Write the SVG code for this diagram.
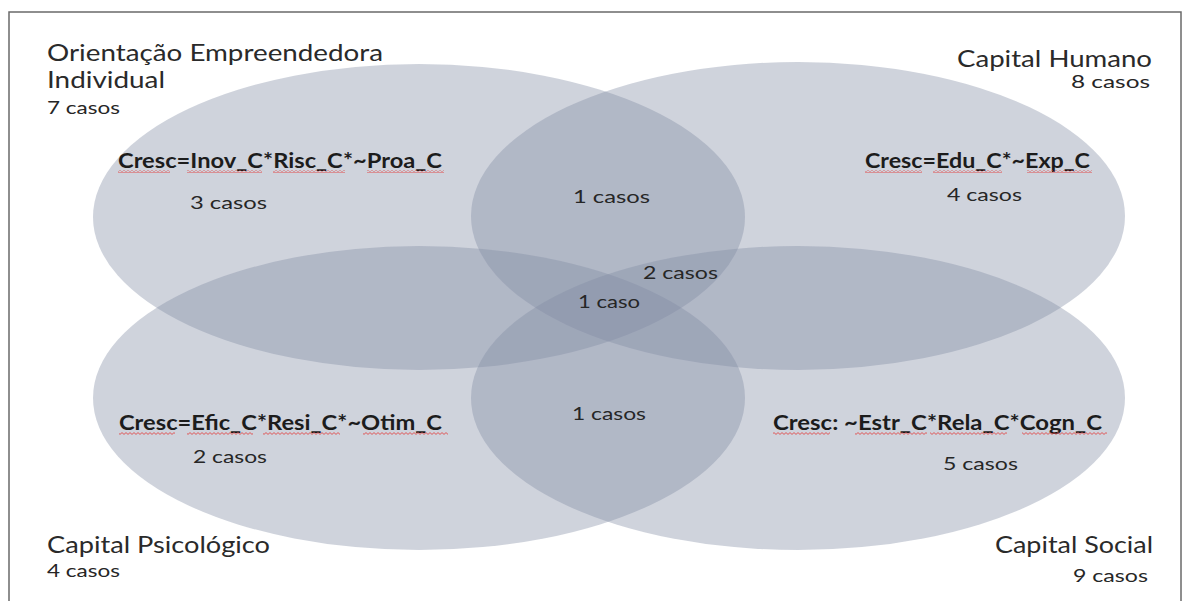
<svg xmlns="http://www.w3.org/2000/svg" width="1187" height="601" viewBox="0 0 1187 601">
<defs>
<style>
.set{fill:#808ca2;fill-opacity:0.38;stroke:none}
.title{font-family:Lato,"Open Sans","Liberation Sans",sans-serif;font-size:23px;fill:#2a2a2a}
.count{font-family:Lato,"Open Sans","Liberation Sans",sans-serif;font-size:18px;fill:#262626}
.formula{font-family:Lato,"Open Sans","Liberation Sans",sans-serif;font-size:20px;font-weight:bold;fill:#1c1c1c}
.sq{fill:url(#squiggle)}
</style>
<pattern id="squiggle" x="0" y="0" width="4" height="3" patternUnits="userSpaceOnUse">
<path d="M0 2.4 L2 0.6 L4 2.4" fill="none" stroke="#e04848" stroke-width="0.9"/>
</pattern>
</defs>
<rect x="0" y="0" width="1187" height="601" fill="#ffffff"/>
<rect id="frame" x="9" y="12" width="1172" height="600" fill="none" stroke="#6a6a6a" stroke-width="1.5"/>

<g id="set-orientacao">
<ellipse class="set" cx="419" cy="217" rx="326" ry="153"/>
<text class="title" x="47" y="61" textLength="336" lengthAdjust="spacingAndGlyphs">Orientação Empreendedora</text>
<text class="title" x="47" y="88" textLength="118" lengthAdjust="spacingAndGlyphs">Individual</text>
<text class="count" x="47" y="114" textLength="73" lengthAdjust="spacingAndGlyphs">7 casos</text>
<text class="formula" x="118" y="168" textLength="324" lengthAdjust="spacingAndGlyphs">Cresc=Inov_C*Risc_C*~Proa_C</text>
<rect class="sq" x="118" y="170" width="52" height="3"/>
<rect class="sq" x="187" y="170" width="75" height="3"/>
<rect class="sq" x="273" y="170" width="72" height="3"/>
<rect class="sq" x="367" y="170" width="77" height="3"/>
<text class="count" x="190" y="209" textLength="77" lengthAdjust="spacingAndGlyphs">3 casos</text>
</g>

<g id="set-humano">
<ellipse class="set" cx="798" cy="216" rx="327" ry="154"/>
<text class="title" x="957" y="67" textLength="195" lengthAdjust="spacingAndGlyphs">Capital Humano</text>
<text class="count" x="1071" y="88" textLength="79" lengthAdjust="spacingAndGlyphs">8 casos</text>
<text class="formula" x="865" y="168" textLength="225" lengthAdjust="spacingAndGlyphs">Cresc=Edu_C*~Exp_C</text>
<rect class="sq" x="865" y="170" width="57" height="3"/>
<rect class="sq" x="933" y="170" width="69" height="3"/>
<rect class="sq" x="1027" y="170" width="65" height="3"/>
<text class="count" x="947" y="201" textLength="75" lengthAdjust="spacingAndGlyphs">4 casos</text>
</g>

<g id="set-psicologico">
<ellipse class="set" cx="419" cy="398" rx="326" ry="152"/>
<text class="title" x="47" y="553" textLength="223" lengthAdjust="spacingAndGlyphs">Capital Psicológico</text>
<text class="count" x="47" y="577" textLength="73" lengthAdjust="spacingAndGlyphs">4 casos</text>
<text class="formula" x="119" y="430" textLength="323" lengthAdjust="spacingAndGlyphs">Cresc=Efic_C*Resi_C*~Otim_C</text>
<rect class="sq" x="119" y="432" width="56" height="3"/>
<rect class="sq" x="187" y="432" width="66" height="3"/>
<rect class="sq" x="263" y="432" width="77" height="3"/>
<rect class="sq" x="363" y="432" width="85" height="3"/>
<text class="count" x="193" y="463" textLength="74" lengthAdjust="spacingAndGlyphs">2 casos</text>
</g>

<g id="set-social">
<ellipse class="set" cx="798" cy="398" rx="327" ry="152"/>
<text class="title" x="995" y="553" textLength="158" lengthAdjust="spacingAndGlyphs">Capital Social</text>
<text class="count" x="1073" y="582" textLength="75" lengthAdjust="spacingAndGlyphs">9 casos</text>
<text class="formula" x="773" y="430" textLength="329" lengthAdjust="spacingAndGlyphs">Cresc: ~Estr_C*Rela_C*Cogn_C</text>
<rect class="sq" x="773" y="432" width="57" height="3"/>
<rect class="sq" x="855" y="432" width="72" height="3"/>
<rect class="sq" x="930" y="432" width="77" height="3"/>
<rect class="sq" x="1022" y="432" width="85" height="3"/>
<text class="count" x="943" y="470" textLength="75" lengthAdjust="spacingAndGlyphs">5 casos</text>
</g>

<g id="overlaps">
<text class="count" x="573" y="203" textLength="77" lengthAdjust="spacingAndGlyphs">1 casos</text>
<text class="count" x="643" y="279" textLength="75" lengthAdjust="spacingAndGlyphs">2 casos</text>
<text class="count" x="578" y="308" textLength="62" lengthAdjust="spacingAndGlyphs">1 caso</text>
<text class="count" x="572" y="420" textLength="74" lengthAdjust="spacingAndGlyphs">1 casos</text>
</g>
</svg>
